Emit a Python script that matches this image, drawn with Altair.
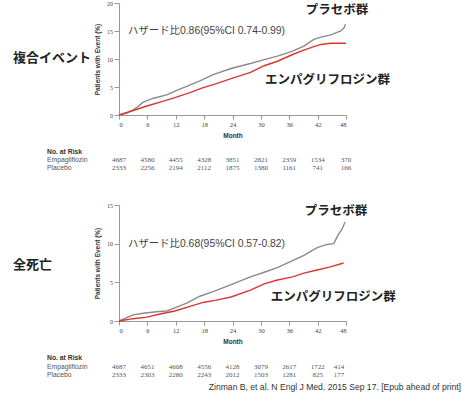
import altair as alt
import pandas as pd

# ---------------- data ----------------
month_ticks = [0, 6, 12, 18, 24, 30, 36, 42, 48]

# Composite outcome (top panel)
comp_pla_m = [0, 1.5, 3.0, 4.0, 5.1, 7.3, 10.1, 12.2, 14.3, 17.1, 19.9, 23.7, 27.8, 30.7,
              33.5, 36.7, 39.1, 41.2, 42.7, 44.8, 46.9, 47.6, 47.9]
comp_pla_v = [0, 0.3, 0.9, 1.5, 2.3, 3.0, 3.6, 4.4, 5.1, 6.1, 7.2, 8.3, 9.2, 9.9,
              10.5, 11.4, 12.3, 13.5, 13.9, 14.3, 15.0, 15.6, 16.2]
comp_emp_m = [0, 3.0, 5.9, 8.7, 11.8, 15.0, 17.8, 20.6, 23.7, 27.8, 30.7, 33.5, 36.7,
              39.1, 41.2, 42.7, 44.8, 48.0]
comp_emp_v = [0, 0.8, 1.6, 2.3, 3.1, 4.0, 4.9, 5.6, 6.5, 7.6, 8.8, 9.6, 10.8,
              11.6, 12.2, 12.6, 12.8, 12.8]

# All-cause death (bottom panel)
death_pla_m = [0, 3.0, 5.1, 7.9, 10.1, 12.2, 14.3, 17.1, 19.9, 23.7, 27.8, 30.7, 33.5,
               36.7, 39.1, 41.9, 44.0, 45.4, 46.4, 47.1, 47.8]
death_pla_v = [0, 0.8, 1.0, 1.2, 1.3, 1.8, 2.3, 3.2, 3.8, 4.7, 5.7, 6.3, 6.9,
               7.8, 8.5, 9.5, 9.9, 10.0, 11.2, 11.8, 12.8]
death_emp_m = [0, 3.0, 5.9, 8.7, 11.8, 15.0, 17.8, 20.6, 23.7, 27.8, 30.7, 33.5, 36.7,
               39.1, 41.9, 44.7, 47.5]
death_emp_v = [0, 0.3, 0.5, 0.9, 1.3, 1.9, 2.4, 2.7, 3.1, 4.0, 4.8, 5.3, 5.7,
               6.2, 6.6, 7.0, 7.5]

# Number at risk
comp_risk_emp = ["4687", "4580", "4455", "4328", "3851", "2821", "2359", "1534", "370"]
comp_risk_pla = ["2333", "2256", "2194", "2112", "1875", "1380", "1161", "741", "166"]
comp_risk_m = [0, 6, 12, 18, 24, 30, 36, 42, 48]
death_risk_emp = ["4687", "4651", "4608", "4556", "4128", "3079", "2617", "1722", "414"]
death_risk_pla = ["2333", "2303", "2280", "2243", "2012", "1503", "1281", "825", "177"]
death_risk_m = [0, 6, 12, 18, 24, 30, 36, 42, 46.5]

groups = ["プラセボ群", "エンパグリフロジン群"]
colors = ["#8a8a8a", "#d8372f"]

JP = "Noto Sans CJK JP"
SANS = "Liberation Sans"
SERIF = "Liberation Serif"


def panel(title, title_y, pla_m, pla_v, emp_m, emp_v, ymax, height, hr_text, hr_pos,
          pla_pos, emp_pos, risk_m, risk_emp, risk_pla, risk_ys, extra=None):
    df = pd.concat([
        pd.DataFrame({"month": pla_m, "pct": pla_v, "group": groups[0]}),
        pd.DataFrame({"month": emp_m, "pct": emp_v, "group": groups[1]}),
    ])
    x = alt.X("month:Q", scale=alt.Scale(domain=[0, 48], nice=False),
              axis=alt.Axis(values=month_ticks, title="Month", labelFont=SERIF,
                            labelFontSize=6.5, labelColor="#444", tickSize=4,
                            labelPadding=2, labelOverlap=False, titleFont=SANS,
                            titleFontSize=6.5, titleFontWeight="bold", titleColor="#333",
                            titlePadding=5, domainColor="#999", tickColor="#999",
                            grid=False))
    y = alt.Y("pct:Q", scale=alt.Scale(domain=[0, ymax], nice=False),
              axis=alt.Axis(values=list(range(0, ymax + 1, 5)),
                            title="Patients with Event (%)", labelFont=SERIF,
                            labelFontSize=6, labelColor="#444", tickSize=5,
                            labelPadding=1.5, labelOverlap=False, titleFont=SANS,
                            titleFontSize=6.5, titleFontWeight="bold", titleColor="#333",
                            titlePadding=6, domainColor="#999", tickColor="#999",
                            grid=False))
    lines = alt.Chart(df).mark_line(strokeWidth=1.4).encode(
        x=x, y=y,
        color=alt.Color("group:N", scale=alt.Scale(domain=groups, range=colors), legend=None),
        detail="group:N",
    )

    def label(text, mx, my, size, color="#222", align="left", font=JP, weight="normal"):
        d = pd.DataFrame({"month": [mx], "pct": [my], "t": [text]})
        return alt.Chart(d).mark_text(align=align, baseline="middle", font=font,
                                      fontSize=size, color=color, fontWeight=weight).encode(
            x=x, y=y, text="t:N")

    hr = label(hr_text, hr_pos[0], hr_pos[1], 10.4, color="#444",
               font=f"{SANS}, {JP}")
    pla_lab = label(groups[0], pla_pos[0], pla_pos[1], 12.5, align="center", weight="bold")
    emp_lab = label(groups[1], emp_pos[0], emp_pos[1], 12.5, align="center", weight="bold")

    tdf = pd.DataFrame({"t": [title]})
    title_mark = alt.Chart(tdf).mark_text(align="left", baseline="middle", font=JP,
                                          fontSize=13, color="#222", fontWeight="bold").encode(
        x=alt.value(-106), y=alt.value(title_y), text="t:N")

    hdr = alt.Chart(pd.DataFrame({"t": ["No. at Risk"]})).mark_text(
        align="left", baseline="middle", font=SANS, fontSize=6.8, fontWeight="bold",
        color="#333").encode(x=alt.value(-72), y=alt.value(risk_ys[0]), text="t:N")
    rn_emp = alt.Chart(pd.DataFrame({"t": ["Empagliflozin"]})).mark_text(
        align="left", baseline="middle", font=SANS, fontSize=6.8, color="#555").encode(
        x=alt.value(-72), y=alt.value(risk_ys[1]), text="t:N")
    rn_pla = alt.Chart(pd.DataFrame({"t": ["Placebo"]})).mark_text(
        align="left", baseline="middle", font=SANS, fontSize=6.8, color="#555").encode(
        x=alt.value(-72), y=alt.value(risk_ys[2]), text="t:N")
    re = alt.Chart(pd.DataFrame({"month": risk_m, "n": risk_emp})).mark_text(
        align="center", baseline="middle", font=SERIF, fontSize=7, color="#555").encode(
        x=x, y=alt.value(risk_ys[1]), text="n:N")
    rp = alt.Chart(pd.DataFrame({"month": risk_m, "n": risk_pla})).mark_text(
        align="center", baseline="middle", font=SERIF, fontSize=7, color="#555").encode(
        x=x, y=alt.value(risk_ys[2]), text="n:N")

    layers = [lines, hr, pla_lab, emp_lab, title_mark, hdr, rn_emp, rn_pla, re, rp]
    if extra is not None:
        layers.append(extra)
    return alt.layer(*layers).properties(width=227, height=height)


top = panel("複合イベント", 55, comp_pla_m, comp_pla_v, comp_emp_m, comp_emp_v, 20, 112,
            "ハザード比0.86(95%CI 0.74-0.99)", (1.9, 15.0), (46.1, 18.7), (44.1, 6.25),
            comp_risk_m, comp_risk_emp, comp_risk_pla, [148.5, 157.2, 165.4])

cite = alt.Chart(pd.DataFrame({"t": ["Zinman B, et al.  N Engl J Med. 2015 Sep 17. [Epub ahead of print]"]})).mark_text(
    align="right", baseline="middle", font=SANS, fontSize=8.6, color="#333").encode(
    x=alt.value(342), y=alt.value(181.5), text="t:N")

bottom = panel("全死亡", 60, death_pla_m, death_pla_v, death_emp_m, death_emp_v, 15, 116,
               "ハザード比0.68(95%CI 0.57-0.82)", (1.9, 10.0), (45.9, 14.2), (45.3, 3.1),
               death_risk_m, death_risk_emp, death_risk_pla, [153, 161.7, 169.9],
               extra=cite)

chart = alt.vconcat(top, bottom, spacing=90, bounds="flush").properties(
    padding={"left": 13, "top": 0, "right": 0, "bottom": 0},
    background="white",
).configure_view(stroke=None).configure_axis(labelOverlap=False)

chart.save("out.html", embed_options={"renderer": "svg", "actions": False})
